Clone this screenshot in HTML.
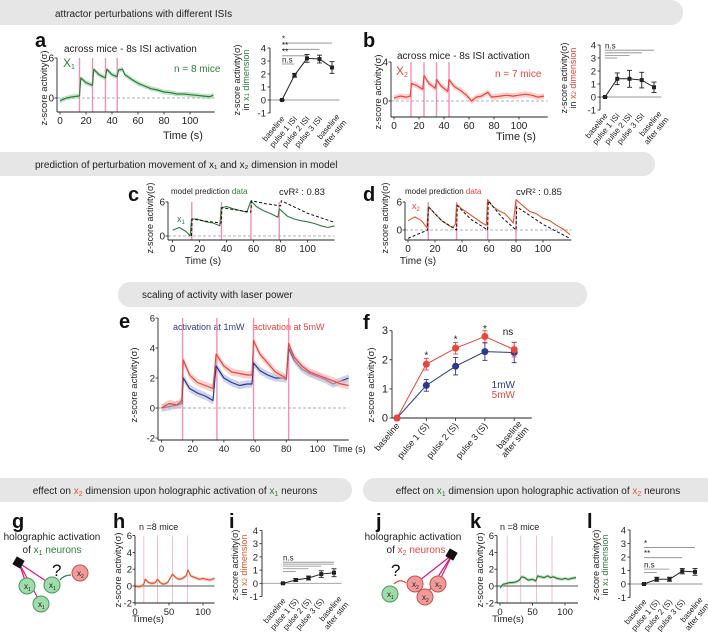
<!DOCTYPE html>
<html><head><meta charset="utf-8"><style>
body{margin:0;background:#fff;}
svg{display:block;font-family:"Liberation Sans",Arial,sans-serif;}
</style></head><body>
<svg id="fig" width="708" height="634" viewBox="0 0 708 634" xmlns="http://www.w3.org/2000/svg">
<rect x="0" y="0" width="708" height="634" fill="#fff"/>
<g font-size="10" fill="#222">
<rect x="-20" y="0" width="703" height="25" rx="12" fill="#e6e6e6"/>
<text x="55" y="17" fill="#222">attractor perturbations with different ISIs</text>
<rect x="-20" y="152" width="675" height="24" rx="12" fill="#e6e6e6"/>
<text x="35" y="168" fill="#222">prediction of perturbation movement of x₁ and x₂ dimension in model</text>
<rect x="118" y="282" width="469" height="25" rx="12" fill="#e6e6e6"/>
<text x="142" y="298" fill="#222">scaling of activity with laser power</text>
<rect x="-20" y="478" width="372" height="24" rx="12" fill="#e6e6e6"/>
<text x="175" y="494" text-anchor="middle" fill="#222">effect on <tspan fill="#e0572a">x<tspan font-size="7" dy="2">2</tspan></tspan><tspan dy="-2"> dimension upon holographic activation of </tspan><tspan fill="#2e7d3a">x<tspan font-size="7" dy="2">1</tspan></tspan><tspan dy="-2">  neurons</tspan></text>
<rect x="363" y="478" width="370" height="24" rx="12" fill="#e6e6e6"/>
<text x="538" y="494" text-anchor="middle" fill="#222">effect on <tspan fill="#2e7d3a">x<tspan font-size="7" dy="2">1</tspan></tspan><tspan dy="-2"> dimension upon holographic activation of </tspan><tspan fill="#e0572a">x<tspan font-size="7" dy="2">2</tspan></tspan><tspan dy="-2">  neurons</tspan></text>
</g>
<g font-weight="bold" font-size="20" fill="#111">
<text x="35" y="47">a</text>
<text x="363" y="47">b</text>
<text x="128" y="201">c</text>
<text x="363" y="201">d</text>
<text x="119" y="328">e</text>
<text x="363" y="329">f</text>
<text x="12" y="528">g</text>
<text x="113" y="528">h</text>
<text x="229" y="528">i</text>
<text x="376" y="528">j</text>
<text x="470" y="528">k</text>
<text x="587" y="528">l</text>
</g>
<g font-size="10" fill="#222">
<text x="64" y="52">across mice - 8s ISI activation</text>
<text x="63" y="67" fill="#2e7d3a" font-size="12">X<tspan font-size="7" dy="2">1</tspan></text>
<text x="174" y="72" fill="#2e7d3a">n = 8 mice</text>
<text x="397" y="59">across mice - 8s ISI activation</text>
<text x="396" y="75" fill="#e8453c" font-size="12">X<tspan font-size="7" dy="2">2</tspan></text>
<text x="495" y="77" fill="#e8453c">n = 7 mice</text>
<text x="171" y="194" font-size="8">model prediction  <tspan fill="#2e7d3a">data</tspan></text>
<text x="279" y="195" font-size="9.5">cvR² : 0.83</text>
<text x="177" y="222" fill="#2e7d3a" font-size="9">x<tspan font-size="6" dy="2">1</tspan></text>
<text x="405" y="194" font-size="8">model prediction  <tspan fill="#e8453c">data</tspan></text>
<text x="516" y="195" font-size="9.5">cvR² : 0.85</text>
<text x="412" y="209" fill="#e8453c" font-size="9">x<tspan font-size="6" dy="2">2</tspan></text>
<text x="173" y="330" fill="#2b3990" font-size="9">activation at 1mW</text>
<text x="253" y="330" fill="#e8453c" font-size="9">activation at 5mW</text>
<text x="515" y="388" fill="#2b3990" text-anchor="end">1mW</text>
<text x="515" y="398" fill="#e8453c" text-anchor="end">5mW</text>
<text x="508" y="335" text-anchor="middle">ns</text>
<text x="139" y="530" font-size="9">n =8 mice</text>
<text x="500" y="530" font-size="9">n =8 mice</text>
<text x="52" y="540" text-anchor="middle">holographic activation</text>
<text x="52" y="553" text-anchor="middle">of <tspan fill="#2e7d3a">x<tspan font-size="7" dy="2">1</tspan><tspan dy="-2"> neurons</tspan></tspan></text>
<text x="413" y="540" text-anchor="middle">holographic activation</text>
<text x="416" y="553" text-anchor="middle">of <tspan fill="#e8453c">x<tspan font-size="7" dy="2">2</tspan><tspan dy="-2"> neurons</tspan></tspan></text>
</g>
<g>
<line x1="19" y1="563" x2="27" y2="586" stroke="#e0157a" stroke-width="1.2"/>
<line x1="19" y1="563" x2="41" y2="604" stroke="#e0157a" stroke-width="1.2"/>
<line x1="19" y1="563" x2="52" y2="585" stroke="#e0157a" stroke-width="1.2"/>
<rect x="14" y="558" width="9" height="9" fill="#111" transform="rotate(30 18.5 562.5)"/>
<circle cx="27" cy="586" r="8" fill="#9fdcaa" stroke="#4a9a5a"/>
<text x="24" y="589" font-size="8" fill="#222">x<tspan font-size="5" dy="2">1</tspan></text>
<circle cx="52" cy="585" r="8" fill="#9fdcaa" stroke="#4a9a5a"/>
<text x="49" y="588" font-size="8" fill="#222">x<tspan font-size="5" dy="2">1</tspan></text>
<circle cx="41" cy="604" r="8" fill="#9fdcaa" stroke="#4a9a5a"/>
<text x="38" y="607" font-size="8" fill="#222">x<tspan font-size="5" dy="2">1</tspan></text>
<circle cx="80" cy="573" r="8" fill="#f09a9a" stroke="#c95050"/>
<text x="77" y="576" font-size="8" fill="#222">x<tspan font-size="5" dy="2">2</tspan></text>
<text x="52" y="576" font-size="17" fill="#111">?</text>
<path d="M60 580 Q64 575 71 575" fill="none" stroke="#2e7d3a" stroke-width="1.2"/>
</g>
<g>
<line x1="452" y1="555" x2="415" y2="584" stroke="#e0157a" stroke-width="1.2"/>
<line x1="452" y1="555" x2="438" y2="584" stroke="#e0157a" stroke-width="1.2"/>
<line x1="452" y1="555" x2="425" y2="597" stroke="#e0157a" stroke-width="1.2"/>
<rect x="447" y="550" width="9" height="9" fill="#111" transform="rotate(30 451.5 554.5)"/>
<circle cx="415" cy="584" r="8" fill="#f09a9a" stroke="#c95050"/>
<text x="412" y="587" font-size="8" fill="#222">x<tspan font-size="5" dy="2">2</tspan></text>
<circle cx="438" cy="584" r="8" fill="#f09a9a" stroke="#c95050"/>
<text x="435" y="587" font-size="8" fill="#222">x<tspan font-size="5" dy="2">2</tspan></text>
<circle cx="425" cy="597" r="8" fill="#f09a9a" stroke="#c95050"/>
<text x="422" y="600" font-size="8" fill="#222">x<tspan font-size="5" dy="2">2</tspan></text>
<circle cx="390" cy="594" r="8" fill="#9fdcaa" stroke="#4a9a5a"/>
<text x="387" y="597" font-size="8" fill="#222">x<tspan font-size="5" dy="2">1</tspan></text>
<text x="391" y="576" font-size="17" fill="#111">?</text>
<path d="M406 583 Q400 578 394 584" fill="none" stroke="#e8453c" stroke-width="1.2"/>
</g>
<g id="charts"></g>
</svg>
<script>
// ---------- data ----------
const aTime=[0,5,10,15,16,20,25,26,30,35,36,40,44,45,48,50,55,60,65,70,75,80,85,90,95,100,105,110,115,118];
const aZ=[-0.4,0,0.2,0.3,3.0,2.3,1.9,4.3,3.5,3.0,4.3,3.5,3.2,4.2,4.3,3.5,2.8,2.2,1.8,1.4,1.2,0.9,0.8,0.6,0.6,0.5,0.4,0.3,0.2,0.4];
const aPulses=[15,25,35,44];
const bTime=[0,5,10,13,14,18,23,24,28,33,34,38,43,44,48,53,58,62,66,70,75,78,85,90,95,100,105,110,115,120];
const bZ=[0.3,0.5,0.4,0.5,1.8,1.6,1.2,2.6,1.8,1.3,2.2,1.5,1.0,2.2,1.5,1.1,0.6,0,0.4,0.5,0.9,0.4,0.5,0.6,0.5,0.6,0.7,0.6,0.4,0.5];
const bPulses=[13.6,24,34,44];
const cTime=[0,5,10,13,14,18,25,30,35,36,40,45,50,55,58,62,67,72,78,79,85,90,95,100,105,110,115,120];
const cZ=[1,1.5,0.8,0,3,3,2.5,2.3,1.8,5,5.2,4.8,4.5,4.2,6.2,5.2,4.5,4.0,3.3,4.8,3.5,3.0,2.7,2.5,2.2,1.8,1.5,1.8];
const cModelTime=[14,14.5,25,36,36.5,47,58,58.5,69,80,80.5,100,120];
const cModelZ=[0,3,2.6,2.3,5,4.6,4.2,6.2,5.7,5.3,6.2,4,2.4];
const cPulses=[14.2,36.2,58,79];
const dTime=[0,5,10,14,15,20,25,30,33,35,36,40,45,50,55,58,59,63,68,72,78,80,85,90,95,100,105,110,115,120];
const dZ=[2,2.8,2,0.5,5,3.5,2,1,0.5,1.2,5.5,4.5,3.5,2.5,1.5,1,6.5,5,4,3.5,1.5,6.5,5.2,4,3.5,2.5,2,1,0.2,-1];
const dModelTime=[0,14.5,15,25,35,36,36.5,47,58,59,59.5,70,80,80.5,100,120];
const dModelZ=[-1.8,0,5,2,0.2,0,5.2,2.2,0.2,0,6.2,2.6,0,5,1.2,-1.8];
const dPulses=[15,36,59,80];
const eTime=[0,5,10,13,14,18,23,28,33,35,40,45,50,55,58,59,63,68,73,78,80,81.5,85,90,95,100,105,110,115,120];
const e5mW=[0,0.3,0.2,0.5,3.2,2.2,1.7,1.5,1.3,3.6,2.8,2.4,2.3,2.2,2.2,4.5,3.6,3.0,2.4,2.1,2.0,4.3,3.4,2.8,2.4,2.2,2.0,1.8,1.6,1.5];
const e1mW=[0,0.1,0.2,0.3,2.0,1.3,1.0,0.8,0.5,2.8,2.0,1.7,1.5,1.6,1.6,3.0,2.5,2.2,2.0,2.0,1.9,4.0,3.2,2.6,2.3,2.1,1.9,1.6,1.8,2.0];
const ePulses=[13.5,35.5,59,81.5];
const hTime=[0,5,10,13,15,20,25,30,33,37,42,48,55,60,65,70,75,78,82,88,95,100,105,110,117];
const hZ=[0,-0.1,0,0.2,0.8,0.4,0.3,0.4,0.8,0.4,0.2,0.4,1.4,1.0,0.8,0.9,1.2,1.9,1.2,1.0,0.8,0.9,0.8,0.7,0.9];
const hPulses=[13,33,55,77];
const kTime=[0,5,10,15,20,25,30,33,38,43,50,55,58,62,68,73,78,82,88,95,100,105,110,117];
const kZ=[-0.2,0.2,0.3,0.4,0.4,0.5,0.7,1.1,1.0,0.7,0.8,0.6,1.2,1.1,1.0,1.2,1.0,1.1,0.9,0.8,0.9,0.8,0.9,1.0];
const kPulses=[11,32,56,80];
const catLabels=["baseline","pulse 1 ISI","pulse 2 ISI","pulse 3 ISI","baseline|after stim"];
const catLabelsS=["baseline","pulse 1 (S)","pulse 2 (S)","pulse 3 (S)","baseline|after stim"];
const aInsetVals=[0,1.9,3.2,3.15,2.5];
const aInsetErr=[0.05,0.15,0.3,0.3,0.45];
const bInsetVals=[0,1.4,1.4,1.3,0.75];
const bInsetErr=[0.05,0.45,0.65,0.6,0.4];
const f5mW=[0,1.85,2.4,2.8,2.35];
const f5mWErr=[0,0.2,0.2,0.2,0.25];
const f1mW=[0,1.12,1.78,2.28,2.25];
const f1mWErr=[0,0.2,0.3,0.3,0.35];
const iVals=[0,0.25,0.4,0.7,0.8];
const iErr=[0.05,0.1,0.15,0.25,0.3];
const lVals=[0,0.35,0.35,0.95,0.9];
const lErr=[0.05,0.15,0.15,0.2,0.25];
const insetTicks=[4,3,2,1,0,-1];
const fTicks=[3,2,1,0];
const traceTicks6=[6,0];
const traceTicks4=[4,0];
const eTicks=[6,4,2,0,-2];
const time100Ticks=[0,20,40,60,80,100];
const time50Ticks=[0,50,100];
const aSig=["*","**","**","n.s"], aSigEnd=[4,3,2,1], aSigLevel=[4.38,3.9,3.4,2.77];
const bSig=["n.s","","",""], bSigEnd=[4,3,2,1], bSigLevel=[3.6,3.4,3.2,3.0];
const iSig=["n.s","","","",""], iSigEnd=[4,4,3,2,1], iSigLevel=[1.6,1.45,1.3,1.1,0.9];
const lSig=["*","**","n.s",""], lSigEnd=[4,3,2,1], lSigLevel=[2.7,1.95,1.1,0.85];
const fStars=["*","*","*"], fStarIdx=[1,2,3], fStarLevel=[2.15,2.7,3.05];

// ---------- helpers ----------
const NS="http://www.w3.org/2000/svg";
const root=document.getElementById('charts');
function mk(tag,name,attrs,parent){
  const e=document.createElementNS(NS,tag);
  
  
  for(const k in attrs) e.setAttribute(k,attrs[k]);
  (parent||root).appendChild(e);
  return e;
}
function txt(name,x,y,s,attrs,parent){
  const e=mk('text',name,Object.assign({x:x,y:y,'font-size':9,fill:'#222'},attrs||{}),parent);
  e.textContent=s;return e;
}
function ylabel(name,x,y,parts,parent,fs){
  const t=mk('text',name,{x:0,y:0,'font-size':fs||9,fill:'#222','text-anchor':'middle',transform:`translate(${x},${y}) rotate(-90)`},parent);
  parts.forEach(p=>{const s=mk('tspan','label-part',{fill:p.c||'#222'},t);
    if(p.dy) s.setAttribute('dy',p.dy); if(p.fs) s.setAttribute('font-size',p.fs);
    s.textContent=p.t;});
  return t;
}
function pts(ts,vs,X,Y){return ts.map((t,i)=>X(t).toFixed(1)+','+Y(vs[i]).toFixed(1)).join(' ');}

function traceChart(o){
  const g=mk('g',o.name,{});
  const X=t=>o.x0+t*o.sx, Y=v=>o.y0-v*o.sy;
  const top=Y(o.yTicks[0]);
  o.pulses.forEach(p=>{mk('line','stim-pulse',{x1:X(p),x2:X(p),y1:top,y2:o.axisY,stroke:o.pulseColor||'#f48fb5','stroke-width':o.pulseW||1.4},g);});
  mk('line','zero-line',{x1:o.axX,x2:X(o.tEnd),y1:Y(0),y2:Y(0),stroke:o.zeroSolid?'#555':'#999','stroke-width':o.zeroSolid?1:0.8,'stroke-dasharray':o.zeroSolid?'':'3,2'},g);
  o.series.forEach(s=>{
    if(s.band){const up=s.t.map((t,i)=>X(t).toFixed(1)+','+Y(s.v[i]+s.band).toFixed(1));
      const dn=s.t.map((t,i)=>X(t).toFixed(1)+','+Y(s.v[i]-s.band).toFixed(1)).reverse();
      mk('polygon',s.name+'-band',{points:up.concat(dn).join(' '),fill:s.bandColor,opacity:0.6},g);}
    mk('polyline',s.name,{points:pts(s.t,s.v,X,Y),fill:'none',stroke:s.color,'stroke-width':s.w||1.2,'stroke-dasharray':s.dash||'','stroke-linejoin':'round'},g);
  });
  mk('line','y-axis',{x1:o.axX,x2:o.axX,y1:top,y2:o.axisY,stroke:'#222','stroke-width':0.9},g);
  mk('line','x-axis',{x1:o.axX,x2:X(o.tEnd),y1:o.axisY,y2:o.axisY,stroke:'#222','stroke-width':0.9},g);
  o.yTicks.forEach(v=>{mk('line','y-tick',{x1:o.axX-2.5,x2:o.axX,y1:Y(v),y2:Y(v),stroke:'#222','stroke-width':0.8},g);
    txt('y-tick-label',o.axX-3,Y(v)+3.5,String(v),{'text-anchor':'end','font-size':o.fs||10},g);});
  o.xTicks.forEach(t=>{mk('line','x-tick',{x1:X(t),x2:X(t),y1:o.axisY,y2:o.axisY+2.5,stroke:'#222','stroke-width':0.8},g);
    txt('x-tick-label',X(t),o.axisY+12,String(t),{'text-anchor':'middle','font-size':o.fs||10},g);});
  if(o.xTitle) txt('x-axis-title',o.xTitle[0],o.xTitle[1],o.xTitle[2],{'text-anchor':o.xTitle[4]||'middle','font-size':o.xTitle[3]||10},g);
  return g;
}

function dotChart(o){
  const g=mk('g',o.name,{});
  const X=i=>o.cx0+i*o.step, Y=v=>o.y0-v*o.sy;
  const yT=Y(o.yTicks[0]), yB=Y(o.yTicks[o.yTicks.length-1]);
  const right=X(o.n-1)+o.step*0.6;
  if(o.axisAtZero){
    mk('line','x-axis',{x1:o.axX,x2:right,y1:Y(0),y2:Y(0),stroke:'#222','stroke-width':0.9},g);
    for(let i=0;i<o.n;i++) mk('line','x-tick',{x1:X(i),x2:X(i),y1:Y(0),y2:Y(0)+3,stroke:'#222','stroke-width':0.8},g);
  } else {
    mk('line','zero-line',{x1:o.axX,x2:right,y1:Y(0),y2:Y(0),stroke:'#999','stroke-width':0.9},g);
  }
  mk('line','y-axis',{x1:o.axX,x2:o.axX,y1:yT,y2:yB,stroke:'#222','stroke-width':0.9},g);
  o.yTicks.forEach(v=>{mk('line','y-tick',{x1:o.axX-2.5,x2:o.axX,y1:Y(v),y2:Y(v),stroke:'#222','stroke-width':0.8},g);
    txt('y-tick-label',o.axX-4,Y(v)+3.5,String(v),{'text-anchor':'end','font-size':o.fs||9.5},g);});
  if(o.sig){o.sig.labels.forEach((lab,k)=>{
    const y=Y(o.sig.level[k]);
    mk('line','significance-bar',{x1:X(0),x2:X(o.sig.end[k]),y1:y,y2:y,stroke:'#888','stroke-width':0.8},g);
    if(lab) txt('significance-label',X(0),y-1.5,lab,{'font-size':8},g);});}
  o.series.forEach(s=>{
    mk('polyline',s.name+'-line',{points:s.v.map((v,i)=>X(i)+','+Y(v)).join(' '),fill:'none',stroke:s.color,'stroke-width':1},g);
    s.v.forEach((v,i)=>{const e=s.e[i];
      if(e>0){mk('line','error-bar',{x1:X(i),x2:X(i),y1:Y(v+e),y2:Y(v-e),stroke:s.color,'stroke-width':0.9},g);
        mk('line','error-cap',{x1:X(i)-2.5,x2:X(i)+2.5,y1:Y(v+e),y2:Y(v+e),stroke:s.color,'stroke-width':0.9},g);
        mk('line','error-cap',{x1:X(i)-2.5,x2:X(i)+2.5,y1:Y(v-e),y2:Y(v-e),stroke:s.color,'stroke-width':0.9},g);}
      if(s.r>2) mk('circle',s.name+'-point',{cx:X(i),cy:Y(v),r:s.r,fill:s.color},g);
      else mk('rect',s.name+'-point',{x:X(i)-2,y:Y(v)-2,width:4,height:4,fill:s.color},g);
    });
  });
  o.labels.forEach((lab,i)=>{
    const t=mk('text','category-label',{x:0,y:0,'font-size':o.lfs||8,fill:'#222','text-anchor':'end',transform:`translate(${X(i)+3},${o.labelY}) rotate(-50)`},g);
    const parts=lab.split('|');
    parts.forEach((p,j)=>{const s=mk('tspan','category-label-line',{x:0,dy:j?9:0},t);s.textContent=p;});
    if(parts.length>1) t.setAttribute('transform',`translate(${X(i)+8},${o.labelY-2}) rotate(-50)`);
  });
  return g;
}

// ---------- panel a ----------
traceChart({name:'panel-a-trace',x0:60,sx:1.3,y0:98,sy:6.67,axisY:112,axX:57,tEnd:119,yTicks:traceTicks6,xTicks:time100Ticks,pulses:aPulses,
  series:[{name:'x1-activity',t:aTime,v:aZ,color:'#2e7d3a',band:0.35,bandColor:'#8fd19e'}],xTitle:[183,139,'Time (s)',11]});
ylabel('a-y-axis-title',47,88,[{t:'z-score activity(σ)'}],null,9.5);
dotChart({name:'panel-a-inset',n:5,axX:270,cx0:282,step:12.5,y0:100,sy:13,yTicks:insetTicks,labelY:119,labels:catLabels,
  sig:{labels:aSig,end:aSigEnd,level:aSigLevel},series:[{name:'x1-mean',v:aInsetVals,e:aInsetErr,color:'#222',r:2}]});
ylabel('a-inset-y-title',240,80,[{t:'z-score activity(σ)'}],null,9);
ylabel('a-inset-y-title-2',249,80,[{t:'in '},{t:'x',c:'#2e7d3a'},{t:'1',c:'#2e7d3a',fs:6},{t:' dimension',c:'#2e7d3a'}],null,9);

// ---------- panel b ----------
traceChart({name:'panel-b-trace',x0:394,sx:1.25,y0:101,sy:9.75,axisY:117,axX:391,tEnd:123,yTicks:traceTicks4,xTicks:time100Ticks,pulses:bPulses,
  series:[{name:'x2-activity',t:bTime,v:bZ,color:'#e8453c',band:0.3,bandColor:'#f6b3ae'}],xTitle:[516,140,'Time (s)',11]});
ylabel('b-y-axis-title',381,92,[{t:'z-score activity(σ)'}],null,9.5);
dotChart({name:'panel-b-inset',n:5,axX:600,cx0:605,step:12.25,y0:97,sy:13,yTicks:insetTicks,labelY:116,labels:catLabels,
  sig:{labels:bSig,end:bSigEnd,level:bSigLevel},series:[{name:'x2-mean',v:bInsetVals,e:bInsetErr,color:'#222',r:2}]});
ylabel('b-inset-y-title',567,78,[{t:'z-score activity(σ)'}],null,9);
ylabel('b-inset-y-title-2',576,78,[{t:'in '},{t:'x',c:'#e8453c'},{t:'2',c:'#e8453c',fs:6},{t:' dimension',c:'#e8453c'}],null,9);

// ---------- panel c ----------
traceChart({name:'panel-c-trace',x0:172.6,sx:1.35,y0:236,sy:5.67,axisY:240,axX:168,tEnd:120,yTicks:traceTicks6,xTicks:time100Ticks,pulses:cPulses,
  series:[{name:'x1-data',t:cTime,v:cZ,color:'#2e7d3a',w:1.1},{name:'model-prediction',t:cModelTime,v:cModelZ,color:'#111',dash:'3,2',w:1}],xTitle:[203,264,'Time (s)',10]});
ylabel('c-y-axis-title',153,218,[{t:'z-score activity(σ)'}],null,9);
// ---------- panel d ----------
traceChart({name:'panel-d-trace',x0:408,sx:1.35,y0:230,sy:4.67,axisY:240,axX:405,tEnd:121,yTicks:traceTicks6,xTicks:time100Ticks,pulses:dPulses,
  series:[{name:'x2-data',t:dTime,v:dZ,color:'#e0572a',w:1.1},{name:'model-prediction',t:dModelTime,v:dModelZ,color:'#111',dash:'3,2',w:1}],xTitle:[418,264,'Time (s)',10]});
ylabel('d-y-axis-title',388,218,[{t:'z-score activity(σ)'}],null,9);

// ---------- panel e ----------
traceChart({name:'panel-e-trace',x0:161.5,sx:1.56,y0:408,sy:15,axisY:440,axX:158,tEnd:120,yTicks:eTicks,xTicks:[0,20,40,60,80,100],pulses:ePulses,
  series:[{name:'activity-1mW',t:eTime,v:e1mW,color:'#2b3990',band:0.25,bandColor:'#aab2e0'},{name:'activity-5mW',t:eTime,v:e5mW,color:'#e8453c',band:0.25,bandColor:'#f6b3ae'}],xTitle:[333,452,'Time (s)',9,'start'],fs:9.5});
ylabel('e-y-axis-title',137,385,[{t:'z-score activity(σ)'}],null,9.5);
// ---------- panel f ----------
dotChart({name:'panel-f-chart',n:5,axX:392,cx0:397,step:29.3,y0:418,sy:29.1,yTicks:fTicks,labelY:426,labels:catLabelsS,axisAtZero:true,lfs:9,fs:11,
  series:[{name:'power-1mW',v:f1mW,e:f1mWErr,color:'#2b3990',r:3.5},{name:'power-5mW',v:f5mW,e:f5mWErr,color:'#e8453c',r:3.5}]});
fStars.forEach((s,k)=>{txt('significance-star',397+fStarIdx[k]*29.3,418-fStarLevel[k]*29.1+3,s,{'text-anchor':'middle','font-size':10});});
ylabel('f-y-axis-title',374,385,[{t:'z-score activity(σ)'}],null,9.5);

// ---------- panel h ----------
traceChart({name:'panel-h-trace',x0:135,sx:0.68,y0:586,sy:8.4,axisY:603,axX:135,tEnd:117,yTicks:eTicks,xTicks:time50Ticks,pulses:hPulses,zeroSolid:true,fs:9.5,pulseW:0.8,pulseColor:'#f7a8c6',
  series:[{name:'x2-activity',t:hTime,v:hZ,color:'#e0572a',band:0.2,bandColor:'#f6b3ae'}],xTitle:[148,622,'Time(s)',9.5]});
ylabel('h-y-axis-title',121,570,[{t:'z-score activity(σ)'}],null,9.5);
// ---------- panel i ----------
dotChart({name:'panel-i-inset',n:5,axX:262,cx0:283,step:12.75,y0:583.3,sy:13.2,yTicks:insetTicks,labelY:601,labels:catLabelsS,
  sig:{labels:iSig,end:iSigEnd,level:iSigLevel},series:[{name:'x2-mean',v:iVals,e:iErr,color:'#222',r:2}]});
ylabel('i-y-title',238,565,[{t:'z-score activity(σ)'}],null,9);
ylabel('i-y-title-2',247,565,[{t:'in '},{t:'x',c:'#e0572a'},{t:'2',c:'#e0572a',fs:6},{t:' dimension',c:'#e0572a'}],null,9);
// ---------- panel k ----------
traceChart({name:'panel-k-trace',x0:500,sx:0.65,y0:586,sy:8.4,axisY:603,axX:497,tEnd:120,yTicks:eTicks,xTicks:time50Ticks,pulses:kPulses,zeroSolid:true,fs:9.5,pulseW:0.8,pulseColor:'#f7a8c6',
  series:[{name:'x1-activity',t:kTime,v:kZ,color:'#2e7d3a',band:0.2,bandColor:'#8fd19e'}],xTitle:[508,622,'Time(s)',9.5]});
ylabel('k-y-axis-title',483,570,[{t:'z-score activity(σ)'}],null,9.5);
// ---------- panel l ----------
dotChart({name:'panel-l-inset',n:5,axX:630,cx0:644,step:12.75,y0:584,sy:13.5,yTicks:insetTicks,labelY:602,labels:catLabelsS,
  sig:{labels:lSig,end:lSigEnd,level:lSigLevel},series:[{name:'x1-mean',v:lVals,e:lErr,color:'#222',r:2}]});
ylabel('l-y-title',599,565,[{t:'z-score activity(σ)'}],null,9);
ylabel('l-y-title-2',608,565,[{t:'in '},{t:'x',c:'#2e7d3a'},{t:'1',c:'#2e7d3a',fs:6},{t:' dimension',c:'#2e7d3a'}],null,9);
</script>
</body></html>
